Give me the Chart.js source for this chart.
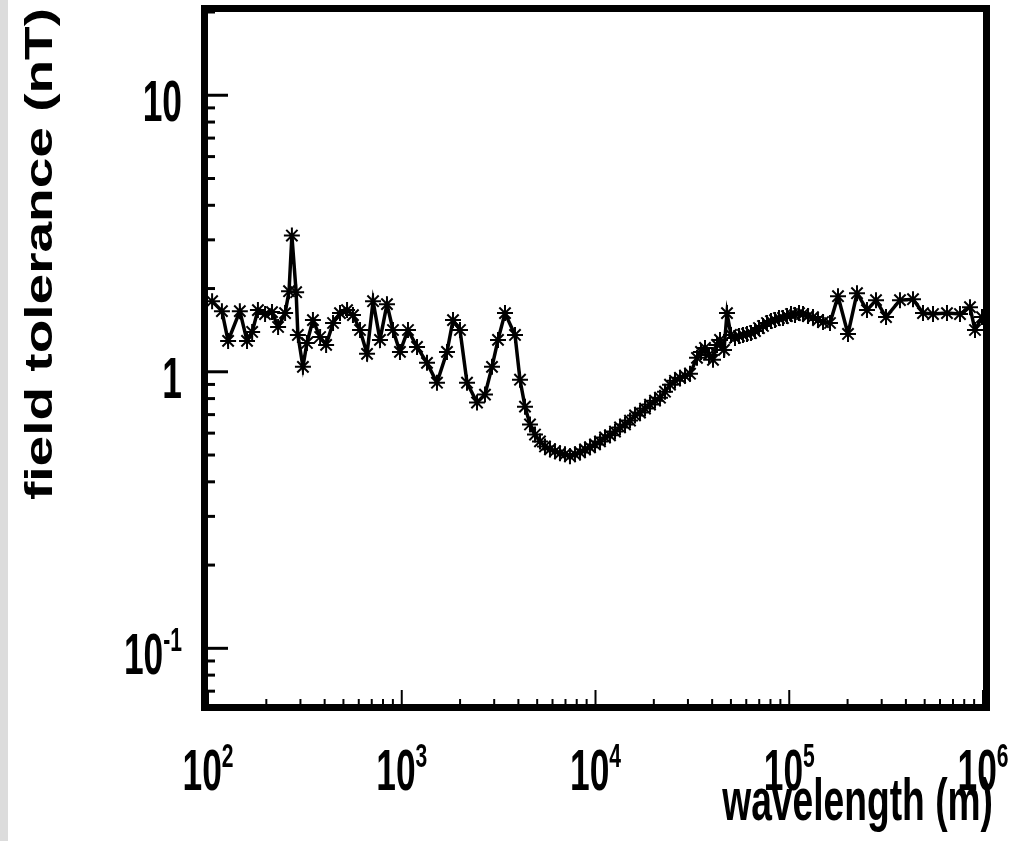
<!DOCTYPE html>
<html>
<head>
<meta charset="utf-8">
<title>field tolerance vs wavelength</title>
<script src="https://cdn.jsdelivr.net/npm/chart.js@4.4.1/dist/chart.umd.min.js"></script>
<style>
    html, body { margin: 0; padding: 0; }
    body {
        width: 1014px;
        height: 841px;
        overflow: hidden;
        background: linear-gradient(to right, #dcdcdc 0, #dcdcdc 8px, #ffffff 8px);
    }
    canvas { display: block; }
</style>
</head>
<body>
<canvas id="toleranceChart" width="1014" height="841"></canvas>
<script>
// wavelength in metres
const wavelength = [
    105, 118, 127, 146, 159, 169, 181, 197, 214, 230,
    250, 262, 271, 285, 291, 309, 324, 348, 379, 407,
    442, 480, 522, 560, 609, 662, 711, 772, 839, 901,
    979, 1077, 1199, 1350, 1520, 1712, 1839, 1998, 2172, 2446,
    2689, 2923, 3139, 3411, 3842, 4077, 4326, 4591, 4872, 5170,
    5486, 5822, 6178, 6556, 6957, 7383, 7835, 8318, 8827, 9367,
    9941, 10549, 11195, 11880, 12610, 13380, 14200, 15070, 15990, 16970,
    18010, 19110, 20280, 21520, 22840, 24240, 25720, 27300, 28970, 30740,
    33410, 35040, 36750, 38530, 40410, 42370, 43910, 46050, 47720, 50040,
    52480, 55030, 57710, 60520, 63460, 66550, 69800, 73190, 76750, 80490,
    84400, 88510, 92820, 97360, 102100, 107100, 112300, 117800, 125000, 132600,
    140700, 149400, 162300, 178500, 201000, 223700, 251900, 280400, 315800, 372800,
    435300, 490200, 552100, 651800, 760700, 856700, 909300, 988200
];

// field tolerance in nT
const tolerance = [
    1.80, 1.657, 1.293, 1.657, 1.293, 1.393, 1.671, 1.617, 1.644, 1.452,
    1.630, 1.956, 3.11, 1.940, 1.359, 1.042, 1.271, 1.538, 1.336, 1.251,
    1.501, 1.630, 1.671, 1.603, 1.416, 1.161, 1.80, 1.304, 1.756, 1.416,
    1.180, 1.416, 1.230, 1.077, 0.913, 1.180, 1.538, 1.416, 0.913, 0.774,
    0.827, 1.042, 1.304, 1.630, 1.359, 0.936, 0.748, 0.645, 0.593, 0.560,
    0.537, 0.524, 0.516, 0.507, 0.503, 0.495, 0.503, 0.511, 0.524, 0.533,
    0.546, 0.560, 0.579, 0.589, 0.608, 0.629, 0.645, 0.666, 0.695, 0.712,
    0.736, 0.761, 0.786, 0.806, 0.847, 0.898, 0.928, 0.951, 0.967, 0.984,
    1.123, 1.180, 1.220, 1.151, 1.105, 1.251, 1.304, 1.200, 1.630, 1.359,
    1.326, 1.347, 1.359, 1.370, 1.381, 1.404, 1.439, 1.464, 1.501, 1.525,
    1.538, 1.564, 1.564, 1.590, 1.617, 1.603, 1.630, 1.617, 1.590, 1.577,
    1.538, 1.513, 1.501, 1.876, 1.370, 1.924, 1.671, 1.816, 1.577, 1.816,
    1.830, 1.630, 1.617, 1.630, 1.617, 1.713, 1.416, 1.577
];

// axis ranges and labelled decades
const xRange = [100, 1e6];
const yRange = [0.0629, 20];
const xTickExponents = [2, 3, 4, 5, 6];
const yTickExponents = [-1, 0, 1];
const xAxisTitle = 'wavelength (m)';
const yAxisTitle = 'field tolerance (nT)';

const FONT = "'Liberation Sans', Arial, Helvetica, sans-serif";
const SQUEEZE = 0.62; // the original lettering is narrow

function textWidth(ctx, text, size) {
    ctx.font = 'bold ' + size + 'px ' + FONT;
    return ctx.measureText(text).width * SQUEEZE;
}

function narrowText(ctx, text, x, y, size) {
    ctx.save();
    ctx.font = 'bold ' + size + 'px ' + FONT;
    ctx.fillStyle = '#000';
    ctx.textAlign = 'left';
    ctx.textBaseline = 'alphabetic';
    ctx.translate(x, y);
    ctx.scale(SQUEEZE, 1);
    ctx.fillText(text, 0, 0);
    ctx.restore();
}

function powerLabel(exp) {
    if (exp === 0) return { base: '1', sup: '' };
    if (exp === 1) return { base: '10', sup: '' };
    return { base: '10', sup: String(exp) };
}

const BASE_SIZE = 57;
const SUP_SIZE = 34;

const rootFrame = {
    id: 'rootFrame',
    afterDatasetsDraw(chart) {
        const { ctx, chartArea: a } = chart;
        const xs = chart.scales.x;
        const ys = chart.scales.y;
        ctx.save();
        ctx.strokeStyle = '#000';

        // y ticks, drawn inward
        ctx.lineWidth = 3;
        for (let e = -2; e <= 1; e++) {
            for (let m = 1; m <= 9; m++) {
                const v = m * Math.pow(10, e);
                if (v < yRange[0] || v > yRange[1]) continue;
                const py = ys.getPixelForValue(v);
                const len = m === 1 ? 20 : 7;
                ctx.beginPath();
                ctx.moveTo(a.left, py);
                ctx.lineTo(a.left + len, py);
                ctx.stroke();
            }
        }

        // x ticks, drawn inward
        ctx.lineWidth = 2;
        for (let e = 2; e <= 6; e++) {
            for (let m = 1; m <= 9; m++) {
                const v = m * Math.pow(10, e);
                if (v < xRange[0] || v > xRange[1]) continue;
                const px = xs.getPixelForValue(v);
                const len = m === 1 ? 14 : 5;
                ctx.beginPath();
                ctx.moveTo(px, a.bottom);
                ctx.lineTo(px, a.bottom - len);
                ctx.stroke();
            }
        }

        // thick frame
        ctx.lineWidth = 7;
        ctx.strokeRect(a.left - 3.5, a.top - 3.5, a.right - a.left + 7, a.bottom - a.top + 7);
        ctx.restore();
    },
    afterDraw(chart) {
        const { ctx } = chart;
        const xs = chart.scales.x;
        const ys = chart.scales.y;

        // x tick labels
        xTickExponents.forEach(exp => {
            const lab = powerLabel(exp);
            const px = xs.getPixelForValue(Math.pow(10, exp));
            const wb = textWidth(ctx, lab.base, BASE_SIZE);
            const ws = textWidth(ctx, lab.sup, SUP_SIZE);
            const x0 = px - (wb + ws) / 2;
            narrowText(ctx, lab.base, x0, 790, BASE_SIZE);
            narrowText(ctx, lab.sup, x0 + wb, 767, SUP_SIZE);
        });

        // y tick labels, right aligned
        yTickExponents.forEach(exp => {
            const lab = powerLabel(exp);
            const py = ys.getPixelForValue(Math.pow(10, exp));
            const wb = textWidth(ctx, lab.base, BASE_SIZE);
            const ws = textWidth(ctx, lab.sup, SUP_SIZE);
            const x0 = 182 - (wb + ws);
            narrowText(ctx, lab.base, x0, py + 26, BASE_SIZE);
            narrowText(ctx, lab.sup, x0 + wb, py + 3, SUP_SIZE);
        });

        // x title, right aligned under the axis
        const wt = textWidth(ctx, xAxisTitle, 60);
        narrowText(ctx, xAxisTitle, 993 - wt, 820, 60);

        // y title, rotated
        ctx.save();
        ctx.translate(41, 254);
        ctx.rotate(-Math.PI / 2);
        ctx.scale(1, 0.72);
        ctx.font = 'bold 55px ' + FONT;
        ctx.fillStyle = '#000';
        ctx.textAlign = 'center';
        ctx.textBaseline = 'middle';
        ctx.fillText(yAxisTitle, 0, 0);
        ctx.restore();
    }
};

document.addEventListener('DOMContentLoaded', () => {
    const points = wavelength.map((w, i) => ({ x: w, y: tolerance[i] }));

    const chartCtx = document.getElementById('toleranceChart').getContext('2d');
    new Chart(chartCtx, {
        type: 'scatter',
        data: {
            datasets: [{
                data: points,
                showLine: true,
                borderColor: '#000',
                backgroundColor: '#000',
                borderWidth: 3.5,
                tension: 0,
                pointStyle: 'star',
                pointRadius: 8,
                pointBorderWidth: 2,
                pointBorderColor: '#000'
            }]
        },
        options: {
            responsive: false,
            animation: false,
            layout: {
                padding: { left: 208, right: 31, top: 12, bottom: 137 }
            },
            plugins: {
                legend: { display: false },
                tooltip: { enabled: false },
                title: { display: false }
            },
            scales: {
                x: { type: 'logarithmic', min: xRange[0], max: xRange[1], display: false },
                y: { type: 'logarithmic', min: yRange[0], max: yRange[1], display: false }
            }
        },
        plugins: [rootFrame]
    });
});
</script>
</body>
</html>
